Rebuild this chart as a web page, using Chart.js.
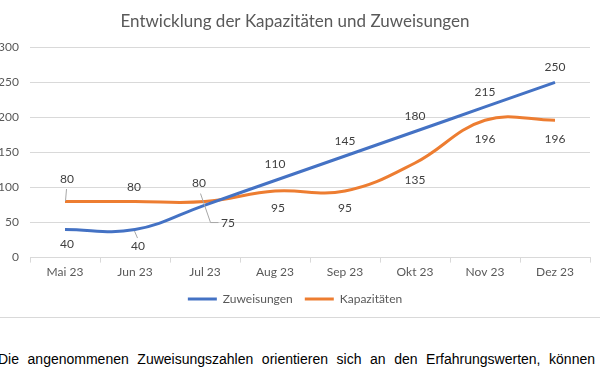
<!DOCTYPE html>
<html><head><meta charset="utf-8">
<script src="https://cdn.jsdelivr.net/npm/chart.js@4.4.0/dist/chart.umd.min.js"></script>
<style>
html,body{margin:0;padding:0;background:#fff;width:600px;height:375px;overflow:hidden;}
#wrap{position:absolute;left:0;top:0;width:600px;height:317px;border-bottom:1px solid #d9d9d9;}
#txt{position:absolute;left:-2px;top:349px;width:597px;font-family:"Liberation Sans",Arial,sans-serif;font-size:14px;line-height:20px;color:#000;text-align:justify;text-align-last:justify;}
</style></head>
<body>
<div id="wrap"><canvas id="c" width="600" height="317"></canvas></div>
<div id="txt">Die angenommenen Zuweisungszahlen orientieren sich an den Erfahrungswerten, können</div>
<script>
const categories = ['Mai 23','Jun 23','Jul 23','Aug 23','Sep 23','Okt 23','Nov 23','Dez 23'];
const zuweisungen = [40, 40, 75, 110, 145, 180, 215, 250];
const kapazitaeten = [80, 80, 80, 95, 95, 135, 196, 196];
const seriesNames = ['Zuweisungen', 'Kapazitäten'];
const yMin = 0, yMax = 300, yStep = 50;
const titleText = 'Entwicklung der Kapazitäten und Zuweisungen';

// label placement (styling only): [dx, dy] from each point
const labelOffsets = [
  [[2,15],[3,17],[23,18],[0,-16],[0,-15],[0,-15],[0,-15],[0,-15]],
  [[2,-22],[-1,-14],[-6,-18],[3,17],[0,17],[0,17],[0,19],[0,19]]
];
// leader lines (styling only), relative to the point
const leaders = [
  {1: [[-1,1],[2,8]], 2: [[-5,-12],[5,17],[13,17]]},
  {0: [[1,-13],[0,-1]]}
];

const FONT = 'Lato, "Open Sans", sans-serif';

const dataLabels = {
  id: 'dataLabels',
  afterDatasetsDraw(chart) {
    const ctx = chart.ctx;
    ctx.save();
    chart.data.datasets.forEach((ds, di) => {
      const meta = chart.getDatasetMeta(di);
      meta.data.forEach((pt, i) => {
        const ld = leaders[di][i];
        if (ld) {
          ctx.beginPath();
          ctx.strokeStyle = '#a6a6a6';
          ctx.lineWidth = 1;
          ld.forEach((p, k) => {
            const x = pt.x + p[0] + 0.5, y = pt.y + p[1] + 0.5;
            if (k === 0) ctx.moveTo(x, y); else ctx.lineTo(x, y);
          });
          ctx.stroke();
        }
        const o = labelOffsets[di][i];
        ctx.fillStyle = '#404040';
        ctx.font = '12px ' + FONT;
        ctx.textAlign = 'center';
        ctx.textBaseline = 'middle';
        ctx.fillText(String(ds.data[i]), pt.x + o[0], pt.y + o[1]);
      });
    });
    ctx.restore();
  }
};

new Chart(document.getElementById('c'), {
  type: 'line',
  data: {
    labels: categories,
    datasets: [
      {label: seriesNames[0], data: zuweisungen, borderColor: '#4472C4', backgroundColor: '#4472C4', borderWidth: 3, pointRadius: 0, tension: 0.4, fill: false},
      {label: seriesNames[1], data: kapazitaeten, borderColor: '#ED7D31', backgroundColor: '#ED7D31', borderWidth: 3, pointRadius: 0, tension: 0.4, fill: false}
    ]
  },
  options: {
    responsive: false,
    animation: false,
    devicePixelRatio: 1,
    layout: {padding: {left: 0, right: 10, top: 0, bottom: 2}},
    plugins: {
      title: {display: true, text: titleText, color: '#595959', font: {family: FONT, size: 17, weight: 'normal'}, padding: {top: 11, bottom: 16}},
      legend: {
        position: 'bottom',
        labels: {
          color: '#595959', font: {family: FONT, size: 12}, boxWidth: 29, boxHeight: 3, padding: 12,
          generateLabels(chart) {
            return chart.data.datasets.map((d, i) => ({text: d.label, fillStyle: d.borderColor, strokeStyle: d.borderColor, lineWidth: 0, datasetIndex: i, fontColor: '#595959'}));
          }
        }
      },
      tooltip: {enabled: false}
    },
    scales: {
      x: {
        offset: true,
        grid: {offset: true, drawOnChartArea: false, drawTicks: true, tickLength: 5, color: '#d9d9d9'},
        border: {color: '#d9d9d9'},
        ticks: {color: '#595959', font: {family: FONT, size: 12}, padding: 2, maxRotation: 0}
      },
      y: {
        min: yMin, max: yMax,
        afterFit(scale) { scale.width = 30; },
        grid: {color: '#d9d9d9', drawTicks: false},
        border: {display: false},
        ticks: {stepSize: yStep, color: '#595959', font: {family: FONT, size: 12}, padding: 11}
      }
    }
  },
  plugins: [dataLabels]
});
</script>
</body></html>
